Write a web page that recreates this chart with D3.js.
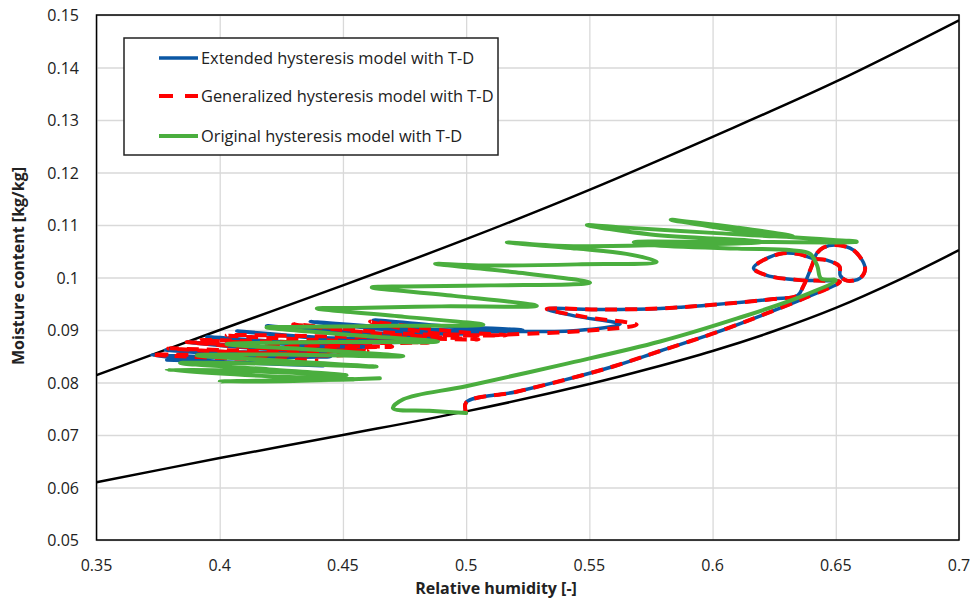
<!DOCTYPE html>
<html>
<head>
<meta charset="utf-8">
<script src="https://cdn.jsdelivr.net/npm/d3@7"></script>
<style>
    body { margin: 0; background: #fff; }
    #chart { width: 973px; height: 600px; }
    text { font-family: "Open Sans", "Noto Sans", sans-serif; fill: #222; }
    .tick-label { font-size: 16px; }
    .axis-title { font-size: 16px; font-weight: bold; }
    .legend-text { font-size: 16.4px; }
    .grid line { stroke: #d9d9d9; stroke-width: 1.3; }
    .grid path { display: none; }
</style>
</head>
<body>
<div id="chart"></div>
<script>
// tick labels
const xTicks = [0.35, 0.4, 0.45, 0.5, 0.55, 0.6, 0.65, 0.7];
const xTickLabels = ["0.35", "0.4", "0.45", "0.5", "0.55", "0.6", "0.65", "0.7"];
const yTicks = [0.05, 0.06, 0.07, 0.08, 0.09, 0.1, 0.11, 0.12, 0.13, 0.14, 0.15];
const yTickLabels = ["0.05", "0.06", "0.07", "0.08", "0.09", "0.1", "0.11", "0.12", "0.13", "0.14", "0.15"];

// boundary curves (black)
const upperRh = [0.35, 0.4, 0.45, 0.5, 0.55, 0.6, 0.65, 0.7];
const upperMc = [0.0814, 0.0900, 0.0985, 0.1073, 0.1167, 0.1268, 0.1373, 0.1490];
const lowerRh = [0.35, 0.4, 0.45, 0.5, 0.55, 0.575, 0.6, 0.625, 0.65, 0.675, 0.7];
const lowerMc = [0.0610, 0.0656, 0.0700, 0.0745, 0.0797, 0.0827, 0.0860, 0.0898, 0.0942, 0.0994, 0.1052];

// Extended hysteresis model with T-D
const extRh = [0.500, 0.500, 0.520, 0.540, 0.560, 0.5787, 0.600, 0.620, 0.638, 0.6517,
    0.645, 0.6355, 0.622, 0.6166, 0.621, 0.6287, 0.6355, 0.6409,
    0.6463, 0.6515, 0.6518, 0.6545,
    0.6599, 0.6619, 0.6572, 0.6500, 0.6450, 0.6423, 0.6405, 0.6385, 0.6368, 0.6345,
    0.6247, 0.600, 0.5787, 0.555, 0.5327,
    0.545, 0.5625,
    0.545, 0.519, 0.500, 0.480,
    0.4623, 0.490, 0.523,
    0.480, 0.4367, 0.470, 0.505,
    0.460, 0.419, 0.455, 0.490,
    0.445, 0.4069, 0.440, 0.475,
    0.430, 0.3947, 0.425, 0.462,
    0.420, 0.3866, 0.415, 0.452,
    0.410, 0.378, 0.405, 0.445,
    0.400, 0.3724, 0.400, 0.442,
    0.410, 0.3785];
const extMc = [0.0742, 0.0762, 0.0782, 0.0805, 0.0831, 0.0860, 0.0893, 0.0928, 0.0962, 0.0992,
    0.0994, 0.0995, 0.1004, 0.1018, 0.1034, 0.1046, 0.1044, 0.1036,
    0.1033, 0.1021, 0.1004, 0.0994,
    0.0999, 0.1018, 0.1052, 0.1062, 0.1057, 0.1046, 0.1025, 0.1001, 0.0983, 0.0966,
    0.0959, 0.0948, 0.0941, 0.0939, 0.0940,
    0.0926, 0.0911,
    0.0899, 0.0897, 0.0897, 0.0903,
    0.0919, 0.0908, 0.0900,
    0.0902, 0.0916, 0.0900, 0.0893,
    0.0895, 0.0908, 0.0892, 0.0885,
    0.0885, 0.0898, 0.0884, 0.0877,
    0.0877, 0.0887, 0.0874, 0.0868,
    0.0867, 0.0877, 0.0865, 0.0858,
    0.0858, 0.0862, 0.0853, 0.0849,
    0.0848, 0.0852, 0.0840, 0.0832,
    0.0838, 0.0843];

// Generalized hysteresis model with T-D
const genRh = [0.500, 0.500, 0.520, 0.540, 0.560, 0.5787, 0.600, 0.620, 0.638, 0.6517,
    0.645, 0.6355, 0.622, 0.6166, 0.621, 0.6287, 0.6355, 0.6409,
    0.6463, 0.6515, 0.6518, 0.6545,
    0.6599, 0.6619, 0.6572, 0.6500, 0.6450, 0.6423, 0.6405, 0.6385, 0.6368, 0.6345,
    0.6247, 0.600, 0.5787, 0.555, 0.5327,
    0.548, 0.5692,
    0.550, 0.525, 0.505, 0.485,
    0.461, 0.495, 0.5165,
    0.475, 0.4298, 0.465, 0.505,
    0.455, 0.4028, 0.445, 0.485,
    0.440, 0.392, 0.430, 0.470,
    0.425, 0.3866, 0.420, 0.460,
    0.415, 0.3791, 0.410, 0.450,
    0.405, 0.3724, 0.405, 0.440];
const genMc = [0.0742, 0.0762, 0.0782, 0.0805, 0.0831, 0.0860, 0.0893, 0.0928, 0.0962, 0.0992,
    0.0994, 0.0995, 0.1004, 0.1018, 0.1034, 0.1046, 0.1044, 0.1036,
    0.1033, 0.1021, 0.1004, 0.0994,
    0.0999, 0.1018, 0.1052, 0.1062, 0.1057, 0.1046, 0.1025, 0.1001, 0.0983, 0.0966,
    0.0959, 0.0948, 0.0941, 0.0939, 0.0940,
    0.0925, 0.0910,
    0.0899, 0.0893, 0.0890, 0.0895,
    0.0916, 0.0897, 0.0890,
    0.0893, 0.0911, 0.0893, 0.0882,
    0.0887, 0.0890, 0.0880, 0.0876,
    0.0876, 0.0881, 0.0872, 0.0868,
    0.0868, 0.0877, 0.0865, 0.0860,
    0.0860, 0.0865, 0.0857, 0.0852,
    0.0852, 0.0853, 0.0846, 0.0842];

// Original hysteresis model with T-D
const origRh = [0.500, 0.485, 0.4703, 0.4745, 0.500, 0.540, 0.5787, 0.610, 0.635, 0.650,
    0.644, 0.6425, 0.6396, 0.632, 0.610, 0.575, 0.568,
    0.600, 0.6585,
    0.625, 0.583,
    0.610, 0.6328,
    0.600, 0.565, 0.549,
    0.575, 0.620,
    0.580, 0.540, 0.5165,
    0.545, 0.565, 0.5773,
    0.545, 0.505, 0.4874,
    0.520, 0.5503,
    0.510, 0.475, 0.4617,
    0.495, 0.5287,
    0.490, 0.455, 0.4394,
    0.475, 0.507,
    0.470, 0.435, 0.419,
    0.455, 0.4886,
    0.445, 0.4028,
    0.440, 0.4745,
    0.430, 0.3907,
    0.430, 0.4637,
    0.420, 0.3839,
    0.420, 0.4515,
    0.410, 0.3785,
    0.420, 0.455,
    0.420, 0.400,
    0.430, 0.465];
const origMc = [0.0742, 0.0746, 0.0751, 0.0768, 0.0793, 0.0835, 0.0878, 0.0922, 0.0962, 0.0995,
    0.0998, 0.1022, 0.1045, 0.1052, 0.1055, 0.1062, 0.1067,
    0.1068, 0.1068,
    0.1080, 0.1110,
    0.1095, 0.1078,
    0.1085, 0.1095, 0.1100,
    0.1082, 0.1068,
    0.1062, 0.1060, 0.1067,
    0.1055, 0.1045, 0.1030,
    0.1025, 0.1023, 0.1026,
    0.1010, 0.0990,
    0.0985, 0.0983, 0.0981,
    0.0965, 0.0946,
    0.0945, 0.0942, 0.0941,
    0.0925, 0.0910,
    0.0908, 0.0906, 0.0905,
    0.0890, 0.0878,
    0.0877, 0.0873,
    0.0862, 0.0850,
    0.0853, 0.0852,
    0.0840, 0.0830,
    0.0836, 0.0837,
    0.0825, 0.0814,
    0.0822, 0.0824,
    0.0812, 0.0806,
    0.0804, 0.0802,
    0.0803, 0.0808];

const seriesNames = ["Extended hysteresis model with T-D", "Generalized hysteresis model with T-D", "Original hysteresis model with T-D"];

function renderChart() {
    const width = 973;
    const height = 600;
    const plotLeft = 96.5, plotRight = 959, plotTop = 15, plotBottom = 540;

    const svg = d3.select("#chart").append("svg")
        .attr("width", width)
        .attr("height", height);

    const xScale = d3.scaleLinear().domain([0.35, 0.7]).range([plotLeft, plotRight]);
    const yScale = d3.scaleLinear().domain([0.05, 0.15]).range([plotBottom, plotTop]);

    // grid lines
    svg.append("g")
        .attr("class", "grid")
        .attr("transform", `translate(0, ${plotBottom})`)
        .call(d3.axisBottom(xScale).tickValues(xTicks).tickSize(-(plotBottom - plotTop)).tickFormat(""));
    svg.append("g")
        .attr("class", "grid")
        .attr("transform", `translate(${plotLeft}, 0)`)
        .call(d3.axisLeft(yScale).tickValues(yTicks).tickSize(-(plotRight - plotLeft)).tickFormat(""));

    // tick labels
    svg.append("g").selectAll("text")
        .data(xTicks)
        .join("text")
        .attr("class", "tick-label")
        .attr("x", d => xScale(d))
        .attr("y", 571)
        .attr("text-anchor", "middle")
        .text((d, i) => xTickLabels[i]);
    svg.append("g").selectAll("text")
        .data(yTicks)
        .join("text")
        .attr("class", "tick-label")
        .attr("x", 79)
        .attr("y", d => yScale(d) + 6)
        .attr("text-anchor", "end")
        .text((d, i) => yTickLabels[i]);

    // axis titles
    svg.append("text")
        .attr("class", "axis-title")
        .attr("text-anchor", "middle")
        .attr("transform", `translate(496, 594)`)
        .text("Relative humidity [-]");
    svg.append("text")
        .attr("class", "axis-title")
        .attr("text-anchor", "middle")
        .attr("transform", `translate(24, 266) rotate(270)`)
        .text("Moisture content [kg/kg]");

    svg.append("clipPath").attr("id", "plot-clip")
        .append("rect")
        .attr("x", plotLeft).attr("y", plotTop)
        .attr("width", plotRight - plotLeft).attr("height", plotBottom - plotTop);

    const plot = svg.append("g").attr("clip-path", "url(#plot-clip)");

    const smoothLine = d3.line()
        .x(d => xScale(d[0]))
        .y(d => yScale(d[1]))
        .curve(d3.curveCatmullRom.alpha(0.5));

    // boundary curves
    plot.append("path")
        .datum(d3.zip(upperRh, upperMc))
        .attr("fill", "none").attr("stroke", "#000").attr("stroke-width", 2.5)
        .attr("d", smoothLine);
    plot.append("path")
        .datum(d3.zip(lowerRh, lowerMc))
        .attr("fill", "none").attr("stroke", "#000").attr("stroke-width", 2.5)
        .attr("d", smoothLine);

    // hysteresis series
    plot.append("path")
        .datum(d3.zip(extRh, extMc))
        .attr("fill", "none").attr("stroke", "#0b57a4").attr("stroke-width", 3.5)
        .attr("stroke-linejoin", "round").attr("stroke-linecap", "round")
        .attr("d", smoothLine);
    plot.append("path")
        .datum(d3.zip(genRh, genMc))
        .attr("fill", "none").attr("stroke", "#ff0000").attr("stroke-width", 4)
        .attr("stroke-dasharray", "12,8")
        .attr("stroke-linejoin", "round")
        .attr("d", smoothLine);
    plot.append("path")
        .datum(d3.zip(origRh, origMc))
        .attr("fill", "none").attr("stroke", "#4aae3e").attr("stroke-width", 4)
        .attr("stroke-linejoin", "round").attr("stroke-linecap", "round")
        .attr("d", smoothLine);

    // plot border
    svg.append("rect")
        .attr("x", plotLeft).attr("y", plotTop)
        .attr("width", plotRight - plotLeft).attr("height", plotBottom - plotTop)
        .attr("fill", "none").attr("stroke", "#000").attr("stroke-width", 1.5);

    // legend
    const legend = svg.append("g");
    legend.append("rect")
        .attr("x", 124).attr("y", 38)
        .attr("width", 374).attr("height", 117)
        .attr("fill", "#fff").attr("stroke", "#222").attr("stroke-width", 1.5);
    const legendStyles = [
        { color: "#0b57a4", dash: null, w: 3.5 },
        { color: "#ff0000", dash: "14,12", w: 4 },
        { color: "#4aae3e", dash: null, w: 4 }
    ];
    const legendY = [58, 96, 136];
    seriesNames.forEach(function (name, i) {
        legend.append("line")
            .attr("x1", 159).attr("x2", 198)
            .attr("y1", legendY[i]).attr("y2", legendY[i])
            .attr("stroke", legendStyles[i].color)
            .attr("stroke-width", legendStyles[i].w)
            .attr("stroke-dasharray", legendStyles[i].dash);
        legend.append("text")
            .attr("class", "legend-text")
            .attr("x", 201)
            .attr("y", legendY[i] + 6)
            .text(name);
    });
}

renderChart();
</script>
</body>
</html>
